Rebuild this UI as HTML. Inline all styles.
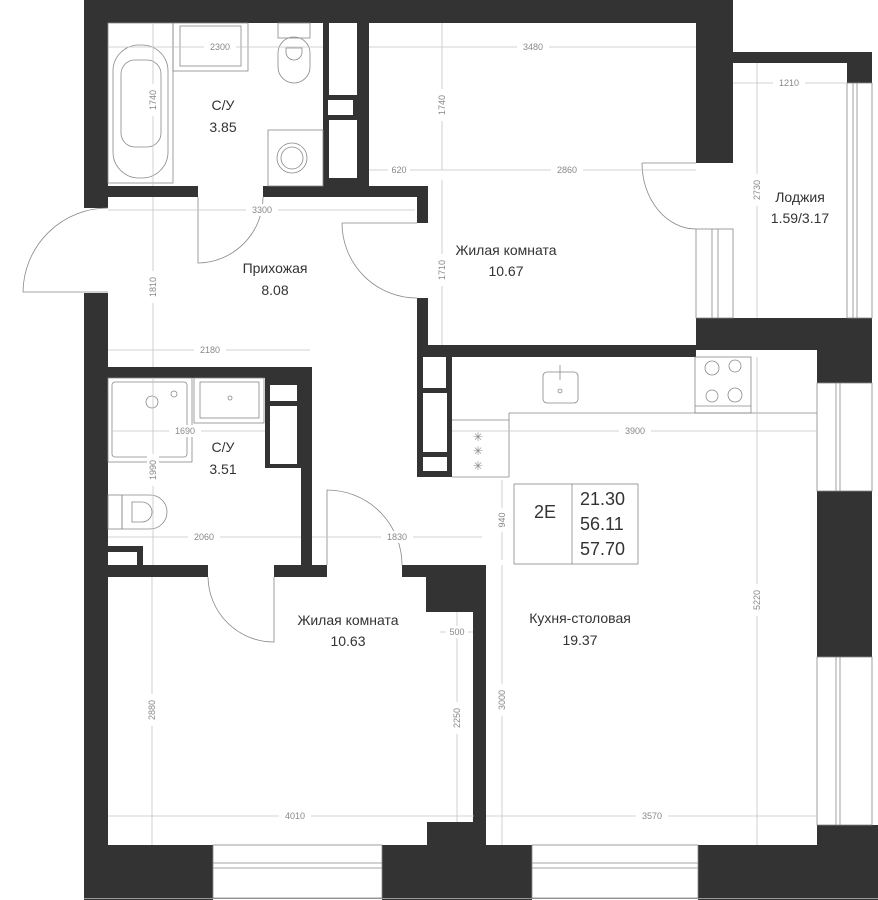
<!DOCTYPE html>
<html><head><meta charset="utf-8"><style>
html,body{margin:0;padding:0;background:#fff}
svg{display:block}
.w{fill:#333}
.f{fill:none;stroke:#888;stroke-width:0.8}
.d{stroke:#c4c4c4;stroke-width:0.8;fill:none}
.dl{font-family:"Liberation Sans",sans-serif;font-size:9px;fill:#888;text-anchor:middle;dominant-baseline:central}
.rl{font-family:"Liberation Sans","DejaVu Sans",sans-serif;font-size:14px;fill:#333;text-anchor:middle}
.bx{font-family:"Liberation Sans",sans-serif;font-size:18px;fill:#333}
</style></head><body>
<svg width="878" height="900" viewBox="0 0 878 900" xmlns="http://www.w3.org/2000/svg">
<rect class="w" x="84" y="0" width="649" height="23"/>
<rect class="w" x="696" y="0" width="37" height="163"/>
<rect class="w" x="733" y="52" width="139" height="11"/>
<rect class="w" x="847" y="52" width="25" height="31"/>
<rect class="w" x="696" y="318" width="176" height="32"/>
<rect class="w" x="817" y="318" width="55" height="65"/>
<rect class="w" x="417" y="345" width="279" height="12"/>
<rect class="w" x="84" y="0" width="24" height="208"/>
<rect class="w" x="84" y="293" width="24" height="607"/>
<rect class="w" x="817" y="491" width="55" height="166"/>
<rect class="w" x="817" y="825" width="61" height="75"/>
<rect class="w" x="84" y="845" width="129" height="55"/>
<rect class="w" x="382" y="845" width="150" height="55"/>
<rect class="w" x="698" y="845" width="180" height="55"/>
<line x1="84" y1="898.5" x2="878" y2="898.5" stroke="#999" stroke-width="1"/>
<rect class="w" x="323" y="23" width="46" height="163"/>
<rect fill="#fff" x="329" y="23" width="28" height="72"/>
<rect fill="#fff" x="328" y="100" width="25" height="15"/>
<rect fill="#fff" x="329" y="120" width="28" height="58"/>
<rect class="w" x="108" y="186" width="90" height="11"/>
<rect class="w" x="263" y="186" width="165" height="11"/>
<rect class="w" x="417" y="186" width="11" height="37"/>
<rect class="w" x="417" y="298" width="11" height="59"/>
<rect class="w" x="417" y="357" width="35" height="120"/>
<rect fill="#fff" x="423" y="357" width="23" height="31"/>
<rect fill="#fff" x="423" y="393" width="24" height="59"/>
<rect fill="#fff" x="423" y="457" width="24" height="14"/>
<rect class="w" x="108" y="367" width="204" height="11"/>
<rect class="w" x="301" y="367" width="11" height="210"/>
<rect class="w" x="265" y="378" width="47" height="90"/>
<rect fill="#fff" x="270" y="385" width="27" height="16"/>
<rect fill="#fff" x="270" y="406" width="27" height="58"/>
<rect class="w" x="108" y="546" width="35" height="20"/>
<rect fill="#fff" x="108" y="552" width="29" height="13"/>
<rect class="w" x="108" y="565" width="100" height="12"/>
<rect class="w" x="274" y="565" width="53" height="12"/>
<rect class="w" x="402" y="565" width="81" height="12"/>
<rect class="w" x="426" y="577" width="57" height="35"/>
<rect class="w" x="473" y="565" width="13" height="280"/>
<rect class="w" x="427" y="822" width="59" height="23"/>
<g class="f">
<rect x="696" y="229" width="37" height="89"/><line x1="712" y1="229" x2="712" y2="318"/><line x1="718" y1="229" x2="718" y2="318"/>
<rect x="847" y="83" width="25" height="235"/><line x1="853" y1="83" x2="853" y2="318"/><line x1="857" y1="83" x2="857" y2="318"/>
<rect x="817" y="383" width="55" height="108"/><line x1="836" y1="383" x2="836" y2="491"/><line x1="840" y1="383" x2="840" y2="491"/>
<rect x="817" y="657" width="55" height="168"/><line x1="836" y1="657" x2="836" y2="825"/><line x1="840" y1="657" x2="840" y2="825"/>
<rect x="213" y="845" width="169" height="53"/><line x1="213" y1="863" x2="382" y2="863"/><line x1="213" y1="868" x2="382" y2="868"/>
<rect x="532" y="845" width="166" height="53"/><line x1="532" y1="863" x2="698" y2="863"/><line x1="532" y1="868" x2="698" y2="868"/>
</g>
<g class="f">
<path d="M108 208 A85 85 0 0 0 23 292 L108 292"/>
<path d="M198 197 L198 263 A66 66 0 0 0 263 197"/>
<path d="M342 223 L417 223 M342 223 A75 75 0 0 0 417 298"/>
<path d="M642 163 L696 163 M642 163 A54 66 0 0 0 696 229"/>
<path d="M274 577 L274 642 A66 66 0 0 1 208 577"/>
<path d="M327 565 L327 490 A75 75 0 0 1 402 565"/>
</g>
<g class="f">
<rect x="108" y="23" width="65" height="160"/>
<rect x="113" y="45" width="55" height="133" rx="26"/>
<rect x="121" y="60" width="40" height="87" rx="14"/>
<rect x="173" y="23" width="75" height="48"/>
<rect x="180" y="26" width="61" height="40"/>
<rect x="278" y="23" width="32" height="15"/>
<rect x="278" y="37" width="32" height="46" rx="16"/>
<path d="M286 48 h16 v4 a8 8 0 0 1 -16 0z"/>
<rect x="268" y="130" width="55" height="56"/>
<circle cx="292" cy="158" r="15"/><circle cx="292" cy="158" r="11"/>
</g>
<g class="f">
<rect x="108" y="378" width="84" height="84"/>
<rect x="112" y="382" width="75" height="75" rx="3"/>
<circle cx="152" cy="402" r="6"/><circle cx="174" cy="394" r="3"/>
<rect x="194" y="378" width="70" height="45"/>
<rect x="200" y="382" width="59" height="36"/>
<circle cx="230" cy="398" r="2"/>
<rect x="108" y="495" width="14" height="34"/>
<path d="M122 495 h28 a17 17 0 0 1 0 34 h-28z"/>
<path d="M132 502 h10 a10 10 0 0 1 0 20 h-10z"/>
</g>
<g class="f">
<path d="M509 413 L817 413 M509 413 L509 477 M452 420 L509 420 M452 477 L509 477"/>
<rect x="695" y="357" width="56" height="56"/>
<circle cx="712" cy="368" r="7"/><circle cx="735" cy="366" r="6"/>
<circle cx="712" cy="396" r="6"/><circle cx="735" cy="395" r="7"/>
<line x1="695" y1="406" x2="751" y2="406"/>
<rect x="543" y="372" width="35" height="31" rx="4"/>
<line x1="560" y1="365" x2="560" y2="380"/>
<circle cx="560" cy="391" r="2"/>
<rect x="514" y="484" width="124" height="80"/>
<line x1="572" y1="484" x2="572" y2="564"/>
</g>
<text x="478" y="437" class="dl" style="font-size:12px">✳</text>
<text x="478" y="451" class="dl" style="font-size:12px">✳</text>
<text x="478" y="466" class="dl" style="font-size:12px">✳</text>
<g class="d">
<line x1="108" y1="47" x2="323" y2="47"/>
<line x1="153" y1="23" x2="153" y2="186"/>
<line x1="369" y1="47" x2="696" y2="47"/>
<line x1="442" y1="23" x2="442" y2="170"/>
<line x1="369" y1="170" x2="696" y2="170"/>
<line x1="442" y1="180" x2="442" y2="345"/>
<line x1="108" y1="210" x2="415" y2="210"/>
<line x1="153" y1="197" x2="153" y2="367"/>
<line x1="108" y1="350" x2="310" y2="350"/>
<line x1="733" y1="83" x2="847" y2="83"/>
<line x1="757" y1="63" x2="757" y2="318"/>
<line x1="111" y1="431" x2="265" y2="431"/>
<line x1="153" y1="378" x2="153" y2="565"/>
<line x1="108" y1="537" x2="301" y2="537"/>
<line x1="312" y1="537" x2="482" y2="537"/>
<line x1="452" y1="431" x2="817" y2="431"/>
<line x1="502" y1="480" x2="502" y2="560"/>
<line x1="502" y1="565" x2="502" y2="845"/>
<line x1="757" y1="357" x2="757" y2="845"/>
<line x1="440" y1="632" x2="473" y2="632"/>
<line x1="457" y1="612" x2="457" y2="822"/>
<line x1="152" y1="577" x2="152" y2="845"/>
<line x1="108" y1="816" x2="474" y2="816"/>
<line x1="486" y1="816" x2="817" y2="816"/>
</g>
<g class="dl">
<rect x="204" y="41" width="32" height="12" fill="#fff"/><text x="220" y="47">2300</text>
<rect x="147" y="84" width="12" height="32" fill="#fff"/><text transform="translate(153,100) rotate(-90)">1740</text>
<rect x="517" y="41" width="32" height="12" fill="#fff"/><text x="533" y="47">3480</text>
<rect x="436" y="89" width="12" height="32" fill="#fff"/><text transform="translate(442,105) rotate(-90)">1740</text>
<rect x="388" y="164" width="22" height="12" fill="#fff"/><text x="399" y="170">620</text>
<rect x="551" y="164" width="32" height="12" fill="#fff"/><text x="567" y="170">2860</text>
<rect x="436" y="254" width="12" height="32" fill="#fff"/><text transform="translate(442,270) rotate(-90)">1710</text>
<rect x="246" y="204" width="32" height="12" fill="#fff"/><text x="262" y="210">3300</text>
<rect x="147" y="271" width="12" height="32" fill="#fff"/><text transform="translate(153,287) rotate(-90)">1810</text>
<rect x="194" y="344" width="32" height="12" fill="#fff"/><text x="210" y="350">2180</text>
<rect x="773" y="77" width="32" height="12" fill="#fff"/><text x="789" y="83">1210</text>
<rect x="751" y="174" width="12" height="32" fill="#fff"/><text transform="translate(757,190) rotate(-90)">2730</text>
<rect x="169" y="425" width="32" height="12" fill="#fff"/><text x="185" y="431">1690</text>
<rect x="147" y="454" width="12" height="32" fill="#fff"/><text transform="translate(153,470) rotate(-90)">1990</text>
<rect x="188" y="531" width="32" height="12" fill="#fff"/><text x="204" y="537">2060</text>
<rect x="381" y="531" width="32" height="12" fill="#fff"/><text x="397" y="537">1830</text>
<rect x="619" y="425" width="32" height="12" fill="#fff"/><text x="635" y="431">3900</text>
<rect x="496" y="508" width="12" height="24" fill="#fff"/><text transform="translate(502,520) rotate(-90)">940</text>
<rect x="496" y="684" width="12" height="32" fill="#fff"/><text transform="translate(502,700) rotate(-90)">3000</text>
<rect x="751" y="584" width="12" height="32" fill="#fff"/><text transform="translate(757,600) rotate(-90)">5220</text>
<rect x="446" y="626" width="22" height="12" fill="#fff"/><text x="457" y="632">500</text>
<rect x="451" y="702" width="12" height="32" fill="#fff"/><text transform="translate(457,718) rotate(-90)">2250</text>
<rect x="146" y="694" width="12" height="32" fill="#fff"/><text transform="translate(152,710) rotate(-90)">2880</text>
<rect x="279" y="810" width="32" height="12" fill="#fff"/><text x="295" y="816">4010</text>
<rect x="636" y="810" width="32" height="12" fill="#fff"/><text x="652" y="816">3570</text>
</g>
<g class="rl">
<text x="223" y="110">С/У</text><text x="223" y="132">3.85</text>
<text x="275" y="273">Прихожая</text><text x="275" y="295">8.08</text>
<text x="506" y="255">Жилая комната</text><text x="506" y="276">10.67</text>
<text x="800" y="202">Лоджия</text><text x="800" y="223">1.59/3.17</text>
<text x="223" y="452">С/У</text><text x="223" y="474">3.51</text>
<text x="348" y="625">Жилая комната</text><text x="348" y="646">10.63</text>
<text x="580" y="623">Кухня-столовая</text><text x="580" y="645">19.37</text>
</g>
<text class="bx" x="545" y="518" text-anchor="middle">2E</text>
<text class="bx" x="580" y="505">21.30</text>
<text class="bx" x="580" y="530">56.11</text>
<text class="bx" x="580" y="555">57.70</text>
</svg>
</body></html>
